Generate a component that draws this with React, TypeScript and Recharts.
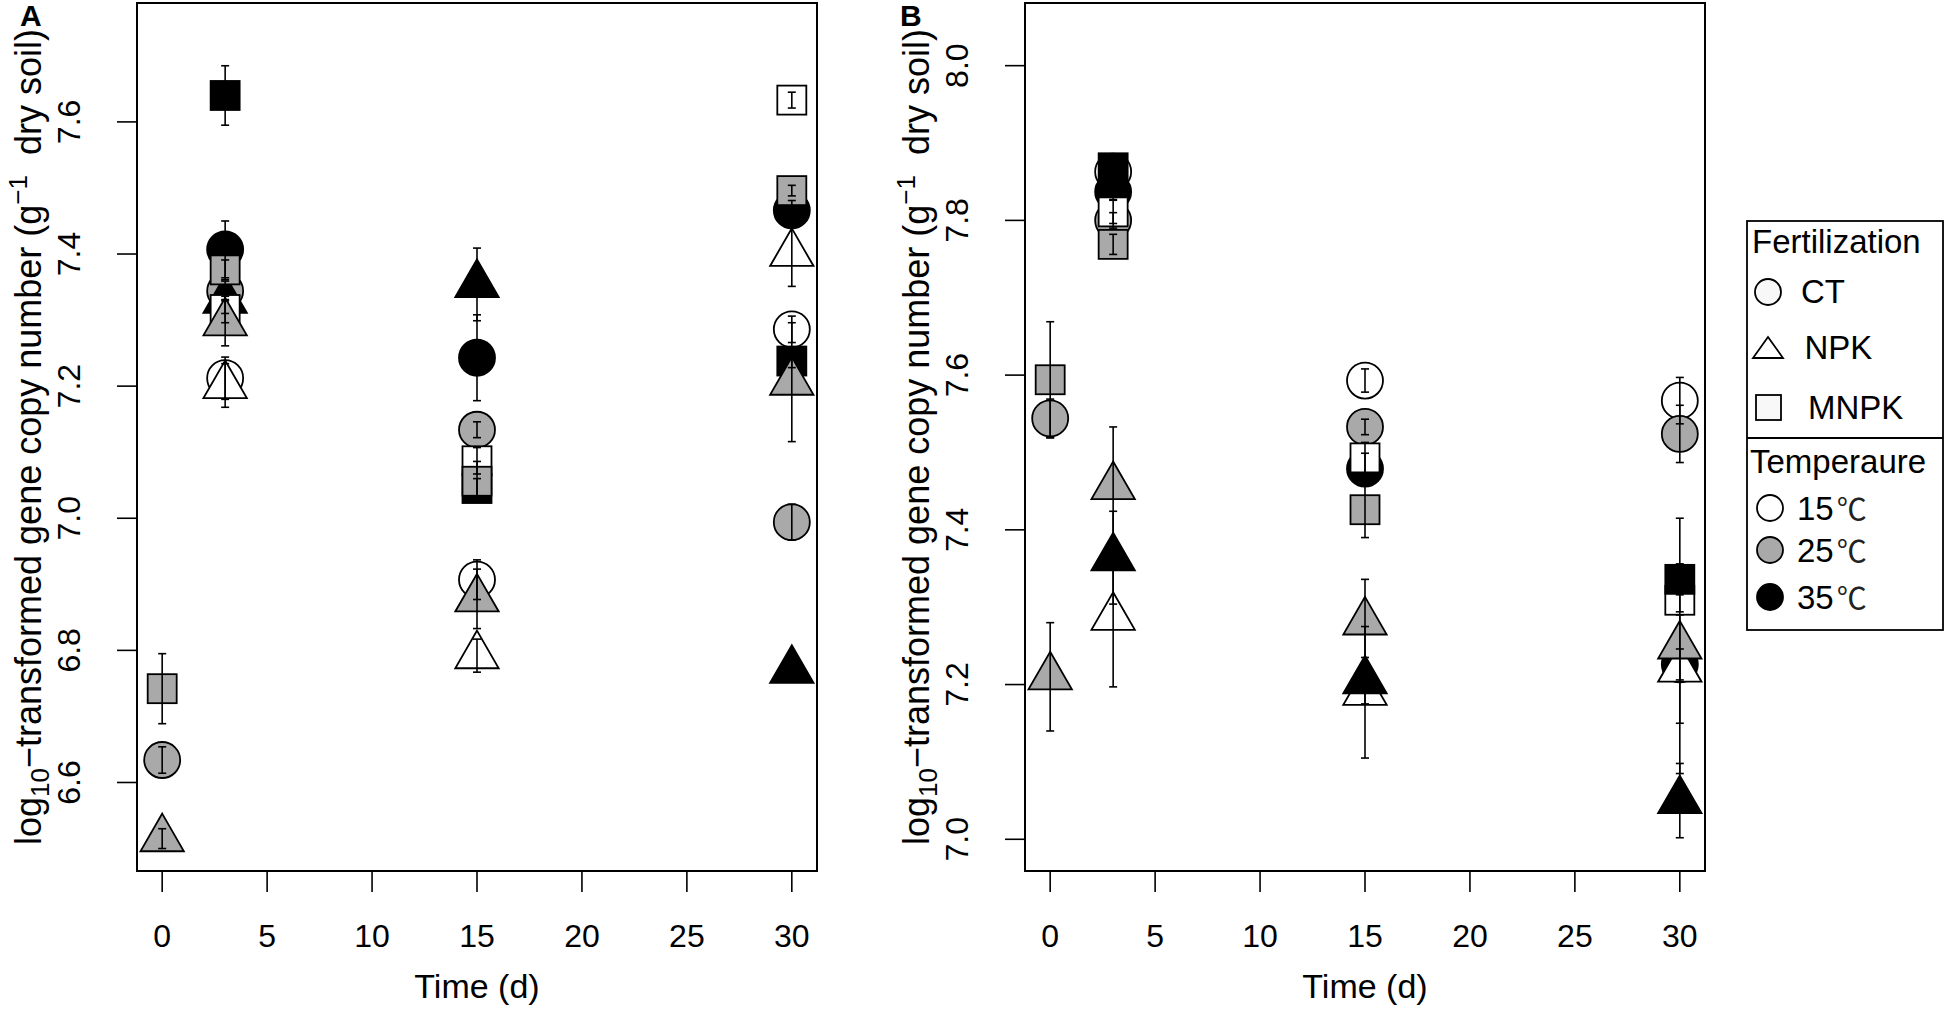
import { ScatterChart, Scatter, XAxis, YAxis, ErrorBar, ReferenceArea, Legend } from 'recharts';

const FONT = '"Liberation Sans", Arial, Helvetica, sans-serif';

// sampling days and axis ticks
const days = [0, 3, 15, 30];
const xTicks = [0, 5, 10, 15, 20, 25, 30];
const yTicksA = [6.6, 6.8, 7.0, 7.2, 7.4, 7.6];
const yTicksB = [7.0, 7.2, 7.4, 7.6, 7.8, 8.0];
const xDomain = [-1.2, 31.2];
const yDomainA = [6.466, 7.78];
const yDomainB = [6.959, 8.081];

const fertNames = ['CT', 'NPK', 'MNPK'];
const tempNames = ['15', '25', '35'];

// panel A means (null = not sampled)
const aCT15 = [null, 7.212, 6.907, 7.286];
const aCT25 = [6.634, 7.344, 7.134, 6.994];
const aCT35 = [null, 7.407, 7.243, 7.466];
const aNPK15 = [null, 7.201, 6.792, 7.401];
const aNPK25 = [6.515, 7.296, 6.878, 7.206];
const aNPK35 = [null, 7.33, 7.354, 6.77];
const aMNPK15 = [null, 7.316, 7.087, 7.633];
const aMNPK25 = [6.742, 7.376, 7.056, 7.496];
const aMNPK35 = [null, 7.64, 7.045, 7.238];

// panel A standard errors
const aCT15Err = [null, 0.032, 0.03, 0.02];
const aCT25Err = [0.02, 0.015, 0.012, 0.027];
const aCT35Err = [null, 0.043, 0.065, 0.015];
const aNPK15Err = [null, 0.033, 0.025, 0.05];
const aNPK25Err = [0.015, 0.035, 0.045, 0.09];
const aNPK35Err = [null, 0.02, 0.055, 0];
const aMNPK15Err = [null, 0.02, 0.02, 0.012];
const aMNPK25Err = [0.053, 0.015, 0.03, 0.008];
const aMNPK35Err = [null, 0.045, 0.015, 0.01];

// panel B means
const bCT15 = [null, 7.863, 7.593, 7.567];
const bCT25 = [7.544, 7.8, 7.533, 7.524];
const bCT35 = [null, 7.837, 7.479, 7.226];
const bNPK15 = [null, 7.287, 7.19, 7.22];
const bNPK25 = [7.21, 7.456, 7.281, 7.25];
const bNPK35 = [null, 7.364, 7.205, 7.05];
const bMNPK15 = [null, 7.811, 7.493, 7.309];
const bMNPK25 = [7.594, 7.769, 7.426, null];
const bMNPK35 = [null, 7.868, null, 7.336];

// panel B standard errors
const bCT15Err = [null, 0.01, 0.015, 0.03];
const bCT25Err = [0.025, 0.01, 0.01, 0.037];
const bCT35Err = [null, 0.01, 0.02, 0.02];
const bNPK15Err = [null, 0.09, 0.085, 0.07];
const bNPK25Err = [0.07, 0.077, 0.055, 0.165];
const bNPK35Err = [null, 0.06, 0.03, 0.048];
const bMNPK15Err = [null, 0.015, 0.02, 0.015];
const bMNPK25Err = [0.075, 0.013, 0.036, null];
const bMNPK35Err = [null, 0.01, null, 0.02];

const tempFill = ['#ffffff', '#a9a9a9', '#000000'];
const fertShape = ['circle', 'triangle', 'square'];

type Pt = { day: number; value: number; err: number };

const toPoints = (vals: (number | null)[], errs: (number | null)[]): Pt[] =>
  days
    .map((d, i) => ({ day: d, value: vals[i] as number, err: (errs[i] ?? 0) as number }))
    .filter((p) => p.value != null);

// drawing order: later series sit on top
const buildSeries = (s: any) => [
  { id: 'CT15', f: 0, t: 0, pts: toPoints(s.CT15, s.CT15Err) },
  { id: 'CT25', f: 0, t: 1, pts: toPoints(s.CT25, s.CT25Err) },
  { id: 'CT35', f: 0, t: 2, pts: toPoints(s.CT35, s.CT35Err) },
  { id: 'NPK15', f: 1, t: 0, pts: toPoints(s.NPK15, s.NPK15Err) },
  { id: 'NPK35', f: 1, t: 2, pts: toPoints(s.NPK35, s.NPK35Err) },
  { id: 'MNPK15', f: 2, t: 0, pts: toPoints(s.MNPK15, s.MNPK15Err) },
  { id: 'MNPK35', f: 2, t: 2, pts: toPoints(s.MNPK35, s.MNPK35Err) },
  { id: 'MNPK25', f: 2, t: 1, pts: toPoints(s.MNPK25, s.MNPK25Err) },
  { id: 'NPK25', f: 1, t: 1, pts: toPoints(s.NPK25, s.NPK25Err) },
];

const seriesA = buildSeries({
  CT15: aCT15, CT25: aCT25, CT35: aCT35, NPK15: aNPK15, NPK25: aNPK25, NPK35: aNPK35,
  MNPK15: aMNPK15, MNPK25: aMNPK25, MNPK35: aMNPK35,
  CT15Err: aCT15Err, CT25Err: aCT25Err, CT35Err: aCT35Err, NPK15Err: aNPK15Err, NPK25Err: aNPK25Err,
  NPK35Err: aNPK35Err, MNPK15Err: aMNPK15Err, MNPK25Err: aMNPK25Err, MNPK35Err: aMNPK35Err,
});
const seriesB = buildSeries({
  CT15: bCT15, CT25: bCT25, CT35: bCT35, NPK15: bNPK15, NPK25: bNPK25, NPK35: bNPK35,
  MNPK15: bMNPK15, MNPK25: bMNPK25, MNPK35: bMNPK35,
  CT15Err: bCT15Err, CT25Err: bCT25Err, CT35Err: bCT35Err, NPK15Err: bNPK15Err, NPK25Err: bNPK25Err,
  NPK35Err: bNPK35Err, MNPK15Err: bMNPK15Err, MNPK25Err: bMNPK25Err, MNPK35Err: bMNPK35Err,
});

const Marker = ({ cx, cy, kind, fill }: any) => {
  if (cx == null || cy == null) return <g />;
  const sw = 1.8;
  if (kind === 'circle') return <circle cx={cx} cy={cy} r={18} fill={fill} stroke="#000" strokeWidth={sw} />;
  if (kind === 'square')
    return <rect x={cx - 14.5} y={cy - 14.5} width={29} height={29} fill={fill} stroke="#000" strokeWidth={sw} />;
  return (
    <polygon
      points={`${cx},${cy - 25} ${cx + 21.7},${cy + 12.6} ${cx - 21.7},${cy + 12.6}`}
      fill={fill}
      stroke="#000"
      strokeWidth={sw}
      strokeLinejoin="miter"
    />
  );
};

const XTick = ({ x, y, payload }: any) => (
  <text x={x} y={y + 53} textAnchor="middle" fontSize={32} fontFamily={FONT} fill="#000">
    {payload.value}
  </text>
);

const YTick = ({ x, y, payload }: any) => {
  const bx = x - 35;
  return (
    <text
      x={bx}
      y={y}
      transform={`rotate(-90 ${bx} ${y})`}
      textAnchor="middle"
      fontSize={32}
      fontFamily={FONT}
      fill="#000"
    >
      {Number(payload.value).toFixed(1)}
    </text>
  );
};

const XTitle = (props: any) => {
  const vb = props.viewBox || { x: 137, y: 871, width: 680, height: 138 };
  return (
    <text x={vb.x + vb.width / 2} y={vb.y + vb.height - 11} textAnchor="middle" fontSize={34} fontFamily={FONT} fill="#000">
      Time (d)
    </text>
  );
};

const makeYTitle = (letter: string, letterX: number) => (props: any) => {
  const vb = props.viewBox || { x: 0, y: 3, width: 137, height: 868 };
  const bx = vb.x + 41;
  const cy = vb.y + vb.height / 2;
  return (
    <g>
      <text
        x={bx}
        y={cy}
        transform={`rotate(-90 ${bx} ${cy})`}
        textAnchor="middle"
        fontSize={36}
        fontFamily={FONT}
        fill="#000"
      >
        log
        <tspan dy={8} fontSize={26}>10</tspan>
        <tspan dy={-8}>{'\u2212transformed gene copy number (g'}</tspan>
        <tspan dy={-14} fontSize={26}>{'\u22121'}</tspan>
        <tspan dy={14}>{'\u00a0\u00a0dry soil)'}</tspan>
      </text>
      <text x={letterX} y={26} fontSize={30} fontWeight="bold" fontFamily={FONT} fill="#000">
        {letter}
      </text>
    </g>
  );
};

const LegendBox = () => {
  const rowsF = [72, 128, 188];
  const rowsT = [288, 330, 377];
  return (
    <svg width={200} height={412} style={{ display: 'block', overflow: 'visible' }}>
      <rect x={1} y={1} width={196} height={409} fill="#fff" stroke="#000" strokeWidth={1.8} />
      <line x1={1} x2={197} y1={218} y2={218} stroke="#000" strokeWidth={1.8} />
      <text x={6} y={33} fontSize={33} fontFamily={FONT}>Fertilization</text>
      {fertNames.map((n, i) => {
        const cy = rowsF[i];
        const shape = fertShape[i];
        return (
          <g key={n}>
            {shape === 'circle' && <circle cx={22} cy={cy} r={13} fill="#f8f8f8" stroke="#000" strokeWidth={1.8} />}
            {shape === 'triangle' && (
              <polygon points={`22,${cy - 11} 37,${cy + 10} 7,${cy + 10}`} fill="#fff" stroke="#000" strokeWidth={1.8} />
            )}
            {shape === 'square' && (
              <rect x={10} y={cy - 13} width={25} height={25} fill="#f8f8f8" stroke="#000" strokeWidth={1.8} />
            )}
            <text x={55 + i * 3.5} y={cy + 11} fontSize={33} fontFamily={FONT}>{n}</text>
          </g>
        );
      })}
      <text x={4} y={253} fontSize={33} fontFamily={FONT}>Temperaure</text>
      {tempNames.map((n, i) => {
        const cy = rowsT[i];
        return (
          <g key={n}>
            <circle cx={24} cy={cy} r={13} fill={tempFill[i]} stroke="#000" strokeWidth={1.8} />
            <text x={51} y={cy + 12} fontSize={33} fontFamily={FONT}>
              {n}
              <tspan dx={3} fontSize={30} fontFamily='"Noto Sans CJK SC", sans-serif' fill="#222">
                {'\u2103'}
              </tspan>
            </text>
          </g>
        );
      })}
    </svg>
  );
};

const Panel = ({ series, yDomain, yTicks, letter, letterX, width, right, withLegend }: any) => {
  const allPts = series.flatMap((s: any) => s.pts);
  return (
    <div style={{ position: 'relative', width, height: 1009 }}>
      <div style={{ position: 'absolute', left: 0, top: 0 }}>
        <ScatterChart width={width} height={1009} margin={{ top: 3, right, bottom: 0, left: 0 }}>
          <XAxis
            type="number"
            dataKey="day"
            domain={xDomain}
            ticks={xTicks}
            interval={0}
            allowDataOverflow
            axisLine={false}
            tickLine={{ stroke: '#000', strokeWidth: 1.6 }}
            tickSize={21}
            height={138}
            tick={<XTick />}
            label={XTitle}
          />
          <YAxis
            type="number"
            dataKey="value"
            domain={yDomain}
            ticks={yTicks}
            interval={0}
            allowDataOverflow
            axisLine={false}
            tickLine={{ stroke: '#000', strokeWidth: 1.6 }}
            tickSize={20}
            width={137}
            tick={<YTick />}
            label={makeYTitle(letter, letterX)}
          />
          {series.map((s: any) => (
            <Scatter
              key={s.id}
              name={s.id}
              data={s.pts}
              isAnimationActive={false}
              legendType="none"
              shape={(p: any) => <Marker cx={p.cx} cy={p.cy} kind={fertShape[s.f]} fill={tempFill[s.t]} />}
            />
          ))}
          {withLegend && (
            <Legend
              layout="vertical"
              align="center"
              verticalAlign="middle"
              content={() => <LegendBox />}
              wrapperStyle={{ position: 'absolute', left: 858, top: 220, width: 200, height: 412 }}
            />
          )}
        </ScatterChart>
      </div>
      {/* error bars and frame sit on top of every marker */}
      <div style={{ position: 'absolute', left: 0, top: 0, pointerEvents: 'none' }}>
        <ScatterChart width={width} height={1009} margin={{ top: 3, right, bottom: 138, left: 137 }}>
          <XAxis type="number" dataKey="day" domain={xDomain} allowDataOverflow hide />
          <YAxis type="number" dataKey="value" domain={yDomain} allowDataOverflow hide />
          <Scatter name="se" data={allPts} isAnimationActive={false} legendType="none" shape={() => <g />}>
            <ErrorBar dataKey="err" direction="y" width={4} stroke="#000" strokeWidth={1.6} isAnimationActive={false} />
          </Scatter>
          <ReferenceArea
            x1={xDomain[0]}
            x2={xDomain[1]}
            y1={yDomain[0]}
            y2={yDomain[1]}
            fill="none"
            fillOpacity={0}
            stroke="#000"
            strokeWidth={2}
            ifOverflow="visible"
          />
        </ScatterChart>
      </div>
    </div>
  );
};

export default function App() {
  return (
    <div style={{ position: 'relative', width: 1950, height: 1009, background: '#fff', fontFamily: FONT }}>
      <style>{'body{margin:0;background:#fff;}'}</style>
      <div style={{ position: 'absolute', left: 0, top: 0 }}>
        <Panel series={seriesA} yDomain={yDomainA} yTicks={yTicksA} letter="A" letterX={20} width={830} right={13} />
      </div>
      <div style={{ position: 'absolute', left: 888, top: 0 }}>
        <Panel
          series={seriesB}
          yDomain={yDomainB}
          yTicks={yTicksB}
          letter="B"
          letterX={12}
          width={1062}
          right={245}
          withLegend
        />
      </div>
    </div>
  );
}
